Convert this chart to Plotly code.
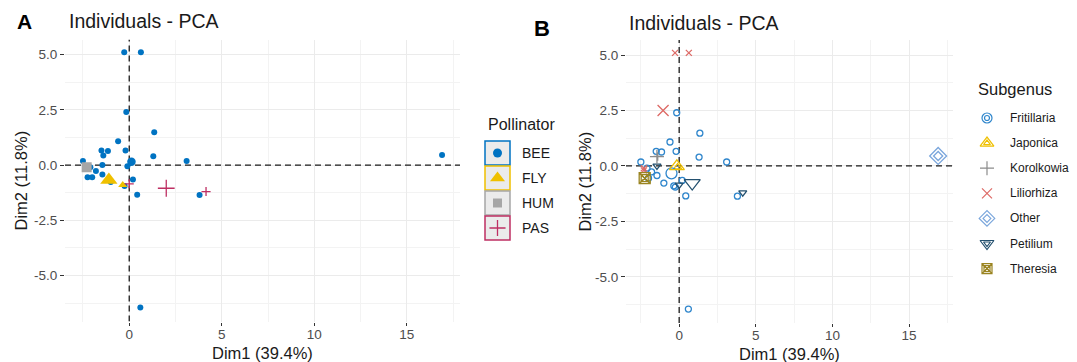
import plotly.graph_objects as go

# ---------------- data ----------------
dim1 = [-0.27, 0.63, -0.16, 1.35, -0.60, -1.50, -1.15, -1.40, -0.20, 1.30,
        3.10, -2.50, 16.90, -0.10, -1.45, -1.80, -2.25, -2.00, -1.45, 0.20,
        -0.25, 0.43, 3.80, 0.60, -2.10, -1.00, -0.35, -2.30, -2.30, 4.15, 0.00]
dim2 = [5.10, 5.10, 2.40, 1.48, 1.08, 0.66, 0.63, 0.43, 0.66, 0.40,
        0.18, 0.18, 0.45, -0.05, 0.00, -0.27, -0.55, -0.55, -0.43, -0.65,
        -0.95, -1.35, -1.36, -6.45, -0.10, -0.77, -0.90, -0.20, -0.10, -1.20, -0.85]
pollinator = ["BEE"] * 26 + ["FLY", "FLY", "HUM", "PAS", "PAS"]
subgenus = ["Liliorhiza", "Liliorhiza", "Fritillaria", "Fritillaria", "Fritillaria",
            "Fritillaria", "Fritillaria", "Korolkowia", "Fritillaria", "Fritillaria",
            "Fritillaria", "Fritillaria", "Other", "Japonica", "Petilium",
            "Fritillaria", "Theresia", "Fritillaria", "Fritillaria", "Fritillaria",
            "Fritillaria", "Fritillaria", "Fritillaria", "Fritillaria", "Fritillaria",
            "Fritillaria", "Fritillaria", "Liliorhiza", "Liliorhiza", "Petilium", "Petilium"]

pollinator_levels = ["BEE", "FLY", "HUM", "PAS"]
pollinator_mean_dim1 = [0.12, -1.10, -2.30, 2.00]
pollinator_mean_dim2 = [0.15, -0.68, -0.10, -1.05]

subgenus_levels = ["Fritillaria", "Japonica", "Korolkowia", "Liliorhiza", "Other", "Petilium", "Theresia"]
subgenus_mean_dim1 = [-0.50, -0.15, -1.45, -1.05, 16.90, 0.85, -2.25]
subgenus_mean_dim2 = [-0.33, -0.02, 0.42, 2.50, 0.45, -0.77, -0.55]

x_tick_vals = [0, 5, 10, 15]
x_tick_text = ["0", "5", "10", "15"]
x_minor_vals = [-2.5, 2.5, 7.5, 12.5, 17.5]
y_tick_vals = [-5, -2.5, 0, 2.5, 5]
y_tick_text = ["-5.0", "-2.5", "0.0", "2.5", "5.0"]
y_minor_vals = [-6.25, -3.75, -1.25, 1.25, 3.75]

x_title = "Dim1 (39.4%)"
y_title = "Dim2 (11.8%)"
plot_title = "Individuals - PCA"

X_RANGE = [-3.47, 17.87]
Y_RANGE = [-7.08, 5.68]

# ---------------- styles ----------------
W, H = 1077, 362
FONT = "Liberation Sans, Arial, Helvetica, sans-serif"

POLL = {
    "BEE": dict(color="#0073C2", symbol="circle", ind=6, mean=8.5, key=9, lw=0),
    "FLY": dict(color="#EFC000", symbol="triangle-up", ind=8, mean=15, key=13, lw=0),
    "HUM": dict(color="#A6A6A6", symbol="square", ind=8, mean=10, key=9, lw=0),
    "PAS": dict(color="#BE2F63", symbol="cross-thin-open", ind=6.5, mean=12, key=11.5, lw=1.3),
}
SUB = {
    "Fritillaria": dict(color="#2F86CC", symbol="circle-open", ind=6, mean=11, key=(10, 5)),
    "Japonica": dict(color="#EFC000", symbol="triangle-up-open", ind=7, mean=13, key=(12, 6)),
    "Korolkowia": dict(color="#8C8C8C", symbol="cross-thin-open", ind=6, mean=10, key=(10,)),
    "Liliorhiza": dict(color="#DD6A66", symbol="x-thin-open", ind=6, mean=11, key=(10,)),
    "Other": dict(color="#7AA6DC", symbol="diamond-open", ind=7, mean=13, key=(12, 6)),
    "Petilium": dict(color="#23506F", symbol="triangle-down-open", ind=7, mean=14, key=(12, 6)),
    "Theresia": dict(color="#9A8420", symbol="square-x-open", ind=7, mean=11, key=(10, 6)),
}


def fx(p):
    return p / W


def fy(p):
    return 1 - p / H


fig = go.Figure()

# dashed reference lines at 0 (drawn first, under the points)
DASH = dict(color="#1A1A1A", width=1.3, dash="6px,4px")
for xa, ya in (("x", "y"), ("x2", "y2")):
    fig.add_trace(go.Scatter(x=[0, 0], y=Y_RANGE, mode="lines", line=DASH, xaxis=xa, yaxis=ya,
                             showlegend=False, hoverinfo="skip", cliponaxis=False))
    fig.add_trace(go.Scatter(x=X_RANGE, y=[0, 0], mode="lines", line=DASH, xaxis=xa, yaxis=ya,
                             showlegend=False, hoverinfo="skip", cliponaxis=False))

# ---------------- panel A ----------------
for lev in pollinator_levels:
    s = POLL[lev]
    xs = [x for x, g in zip(dim1, pollinator) if g == lev]
    ys = [y for y, g in zip(dim2, pollinator) if g == lev]
    fig.add_trace(go.Scatter(
        x=xs, y=ys, mode="markers", xaxis="x", yaxis="y", showlegend=False, hoverinfo="skip",
        marker=dict(symbol=s["symbol"], size=s["ind"], color=s["color"],
                    line=dict(width=s["lw"], color=s["color"]))))
for i, lev in enumerate(pollinator_levels):
    s = POLL[lev]
    fig.add_trace(go.Scatter(
        x=[pollinator_mean_dim1[i]], y=[pollinator_mean_dim2[i]], mode="markers",
        xaxis="x", yaxis="y", showlegend=False, hoverinfo="skip",
        marker=dict(symbol=s["symbol"], size=s["mean"], color=s["color"],
                    line=dict(width=s["lw"], color=s["color"]))))

# ---------------- panel B ----------------
for lev in subgenus_levels:
    s = SUB[lev]
    xs = [x for x, g in zip(dim1, subgenus) if g == lev]
    ys = [y for y, g in zip(dim2, subgenus) if g == lev]
    fig.add_trace(go.Scatter(
        x=xs, y=ys, mode="markers", xaxis="x2", yaxis="y2", showlegend=False, hoverinfo="skip",
        marker=dict(symbol=s["symbol"], size=s["ind"], color=s["color"],
                    line=dict(width=1.3, color=s["color"]))))
for i, lev in enumerate(subgenus_levels):
    s = SUB[lev]
    fig.add_trace(go.Scatter(
        x=[subgenus_mean_dim1[i]], y=[subgenus_mean_dim2[i]], mode="markers",
        xaxis="x2", yaxis="y2", showlegend=False, hoverinfo="skip",
        marker=dict(symbol=s["symbol"], size=s["mean"], color=s["color"],
                    line=dict(width=1.3, color=s["color"]))))

# ---------------- manual legends (overlay axis in pixel units) ----------------
shapes = []
annotations = []

# Legend A
legA_x0, legA_x1, legA_top, pitch = 485, 510, 141, 25
annotations.append(dict(text="Pollinator", x=fx(486), y=fy(124), xanchor="left",
                        font=dict(size=16, color="#1A1A1A", family=FONT)))
for i, lev in enumerate(pollinator_levels):
    s = POLL[lev]
    y0 = legA_top + i * pitch
    shapes.append(dict(type="rect", xref="paper", yref="paper",
                       x0=fx(legA_x0), x1=fx(legA_x1), y0=fy(y0), y1=fy(y0 + 24),
                       fillcolor="#EBEBEB", line=dict(color=s["color"], width=1.5), layer="below"))
    cy = y0 + 12
    fig.add_trace(go.Scatter(
        x=[(legA_x0 + legA_x1) / 2], y=[cy], mode="markers", xaxis="x3", yaxis="y3",
        showlegend=False, hoverinfo="skip",
        marker=dict(symbol=s["symbol"], size=s["key"], color=s["color"],
                    line=dict(width=s["lw"], color=s["color"]))))
    annotations.append(dict(text=lev, x=fx(520), y=fy(cy), xanchor="left",
                            font=dict(size=14, color="#1A1A1A", family=FONT)))

# Legend B
annotations.append(dict(text="Subgenus", x=fx(976), y=fy(89), xanchor="left",
                        font=dict(size=16.5, color="#1A1A1A", family=FONT)))
for i, lev in enumerate(subgenus_levels):
    s = SUB[lev]
    cy = 118 + i * 25.1
    for sz in s["key"]:
        fig.add_trace(go.Scatter(
            x=[987], y=[cy], mode="markers", xaxis="x3", yaxis="y3",
            showlegend=False, hoverinfo="skip",
            marker=dict(symbol=s["symbol"], size=sz, color=s["color"],
                        line=dict(width=1.2, color=s["color"]))))
    annotations.append(dict(text=lev, x=fx(1008), y=fy(cy), xanchor="left",
                            font=dict(size=12, color="#1A1A1A", family=FONT)))

# ---------------- titles / labels ----------------
annotations += [
    dict(text="<b>A</b>", x=fx(24), y=fy(22), font=dict(size=21, color="#000", family=FONT)),
    dict(text="<b>B</b>", x=fx(542), y=fy(29), font=dict(size=22, color="#000", family=FONT)),
    dict(text=plot_title, x=fx(67), y=fy(20.5), xanchor="left",
         font=dict(size=19.5, color="#1A1A1A", family=FONT)),
    dict(text=plot_title, x=fx(627), y=fy(23), xanchor="left",
         font=dict(size=19.5, color="#1A1A1A", family=FONT)),
    dict(text=x_title, x=fx(262.5), y=fy(353), font=dict(size=16.5, color="#1A1A1A", family=FONT)),
    dict(text=x_title, x=fx(789.5), y=fy(353.5), font=dict(size=16.5, color="#1A1A1A", family=FONT)),
    dict(text=y_title, x=fx(21), y=fy(180.5), textangle=-90,
         font=dict(size=16.5, color="#1A1A1A", family=FONT)),
    dict(text=y_title, x=fx(584), y=fy(181.5), textangle=-90,
         font=dict(size=16.5, color="#1A1A1A", family=FONT)),
]
for a in annotations:
    a.setdefault("xref", "paper")
    a.setdefault("yref", "paper")
    a.setdefault("xanchor", "center")
    a.setdefault("yanchor", "middle")
    a.setdefault("showarrow", False)


def xaxis(domain, anchor):
    return dict(domain=domain, anchor=anchor, range=X_RANGE, tickvals=x_tick_vals,
                ticktext=x_tick_text, ticks="outside", ticklen=3, tickwidth=1.2,
                tickcolor="#333333", showgrid=True, gridcolor="#EBEBEB", gridwidth=1,
                zeroline=False, showline=False, automargin=False, fixedrange=True,
                ticklabelstandoff=-3,
                tickfont=dict(size=13.5, color="#4D4D4D", family=FONT),
                minor=dict(tickvals=x_minor_vals, showgrid=True, gridcolor="#F3F3F3",
                           gridwidth=0.8, ticks=""))


def yaxis(domain, anchor):
    return dict(domain=domain, anchor=anchor, range=Y_RANGE, tickvals=y_tick_vals,
                ticktext=y_tick_text, ticks="outside", ticklen=4, tickwidth=1.2,
                tickcolor="#333333", showgrid=True, gridcolor="#EBEBEB", gridwidth=1,
                zeroline=False, showline=False, automargin=False, fixedrange=True,
                tickfont=dict(size=13.5, color="#4D4D4D", family=FONT),
                minor=dict(tickvals=y_minor_vals, showgrid=True, gridcolor="#F3F3F3",
                           gridwidth=0.8, ticks=""))


fig.update_layout(
    width=W, height=H, autosize=False,
    margin=dict(l=0, r=0, t=0, b=0, pad=0),
    paper_bgcolor="white", plot_bgcolor="rgba(0,0,0,0)",
    font=dict(family=FONT),
    showlegend=False,
    xaxis=xaxis([fx(65), fx(460)], "y"),
    yaxis=yaxis([fy(321.5), fy(39.5)], "x"),
    xaxis2=xaxis([fx(626), fx(953)], "y2"),
    yaxis2=yaxis([fy(323), fy(40)], "x2"),
    xaxis3=dict(domain=[0, 1], anchor="y3", range=[0, W], visible=False, fixedrange=True),
    yaxis3=dict(domain=[0, 1], anchor="x3", range=[H, 0], visible=False, fixedrange=True),
    shapes=shapes,
    annotations=annotations,
)

fig.write_html("out.html", config={"displayModeBar": False},
               post_script="document.body.style.margin='0px';")
